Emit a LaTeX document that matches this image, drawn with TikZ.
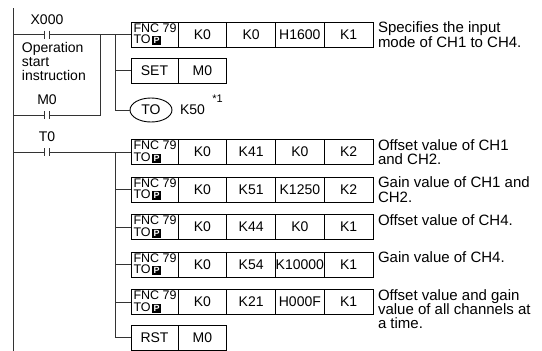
\documentclass[tikz,border=0pt]{standalone}
\usepackage{fontspec}
\setmainfont{Liberation Sans}
\usetikzlibrary{shapes.geometric, positioning}
\newcommand{\pkey}{{\setlength{\fboxsep}{1.5pt}\colorbox{black}{\textcolor{white}{\fontsize{9}{9}\selectfont\bfseries P}}}}

\begin{document}
\begin{tikzpicture}[x=1pt, y=-1pt,
  every node/.style={font=\fontsize{14}{14}\selectfont, inner sep=0pt, outer sep=0pt},
  wire/.style={draw=black!80, line width=0.7pt},
  cell/.style={draw, line width=0.9pt, minimum width=48.75pt, minimum height=25pt},
  opcell/.style={cell, minimum width=47pt},
  fnclbl/.style={anchor=west, align=left, font=\fontsize{12.5}{11.5}\selectfont},
  contact/.style={minimum width=5pt, minimum height=8pt,
    append after command={(\tikzlastnode.north west) edge [wire] (\tikzlastnode.south west)
      (\tikzlastnode.north east) edge [wire] (\tikzlastnode.south east)}},
  note/.style={anchor=north west, align=left, font=\fontsize{15}{14.3}\selectfont}]
  \useasboundingbox (0,0) rectangle (542,351);

  \coordinate (bt) at (13,8);
  \coordinate (bb) at (13,351);
  \coordinate (j1) at (100,34.5);
  \coordinate (j2) at (115,34.5);
  \coordinate (j3) at (115,152);

  \node (x0) [contact] at (47,34.5) {};
  \node (x0-lbl) [above=6pt of x0] {X000};
  \node (op-lbl) [anchor=north west, align=left] at (22,42.5) {Operation\\start\\instruction};
  \node (m0) [contact] at (47,115) {};
  \node (m0-lbl) [above=6pt of m0] {M0};
  \node (t0) [contact] at (47,152) {};
  \node (t0-lbl) [above=6pt of t0] {T0};

  \foreach \n/\y/\a/\b/\c/\d/\txt in {
      r1/34.5/K0/K0/H1600/K1/{Specifies the input\\mode of CH1 to CH4.},
      r2/152/K0/K41/K0/K2/{Offset value of CH1\\and CH2.},
      r3/189.5/K0/K51/K1250/K2/{Gain value of CH1 and\\CH2.},
      r4/227/K0/K44/K0/K1/{Offset value of CH4.},
      r5/264.5/K0/K54/K10000/K1/{Gain value of CH4.},
      r6/302/K0/K21/H000F/K1/{Offset value and gain\\value of all channels at\\a time.}} {
    \node (\n-fnc) [opcell] at (154.5,\y) {};
    \node (\n-lbl) [fnclbl] at ([xshift=2.5pt]\n-fnc.west) {FNC 79\\TO\hspace{1.5pt}\pkey};
    \node (\n-a) [cell, right=0pt of \n-fnc] {\a};
    \node (\n-b) [cell, right=0pt of \n-a] {\b};
    \node (\n-c) [cell, right=0pt of \n-b] {\c};
    \node (\n-d) [cell, right=0pt of \n-c] {\d};
    \node (\n-txt) [note] at ([xshift=5pt]\n-d.north east) {\txt};
    \draw [wire] (j2 |- \n-fnc.west) -- (\n-fnc.west);
  }

  \node (set) [opcell] at (154.5,70.5) {SET};
  \node (set-m0) [cell, right=0pt of set] {M0};
  \node (to) [draw, ellipse, line width=0.9pt, minimum width=42pt, minimum height=24pt] at (151,110) {TO};
  \node (k50) [right=8pt of to] {K50};
  \node (mark) [font=\fontsize{11}{11}\selectfont] at (217.5,99) {*1};
  \node (rst) [opcell] at (154.5,337.5) {RST};
  \node (rst-m0) [cell, right=0pt of rst] {M0};

  \draw [wire] (bt) -- (bb);
  \draw [wire] (bt |- x0) -- (x0.west) (x0.east) -- (r1-fnc.west);
  \draw [wire] (bt |- m0) -- (m0.west) (m0.east) -| (j1);
  \draw [wire] (j2) |- (set.west) (j2) |- (to.west);
  \draw [wire] (bt |- t0) -- (t0.west) (t0.east) -- (r2-fnc.west);
  \draw [wire] (j3) |- (rst.west);
\end{tikzpicture}
\end{document}
